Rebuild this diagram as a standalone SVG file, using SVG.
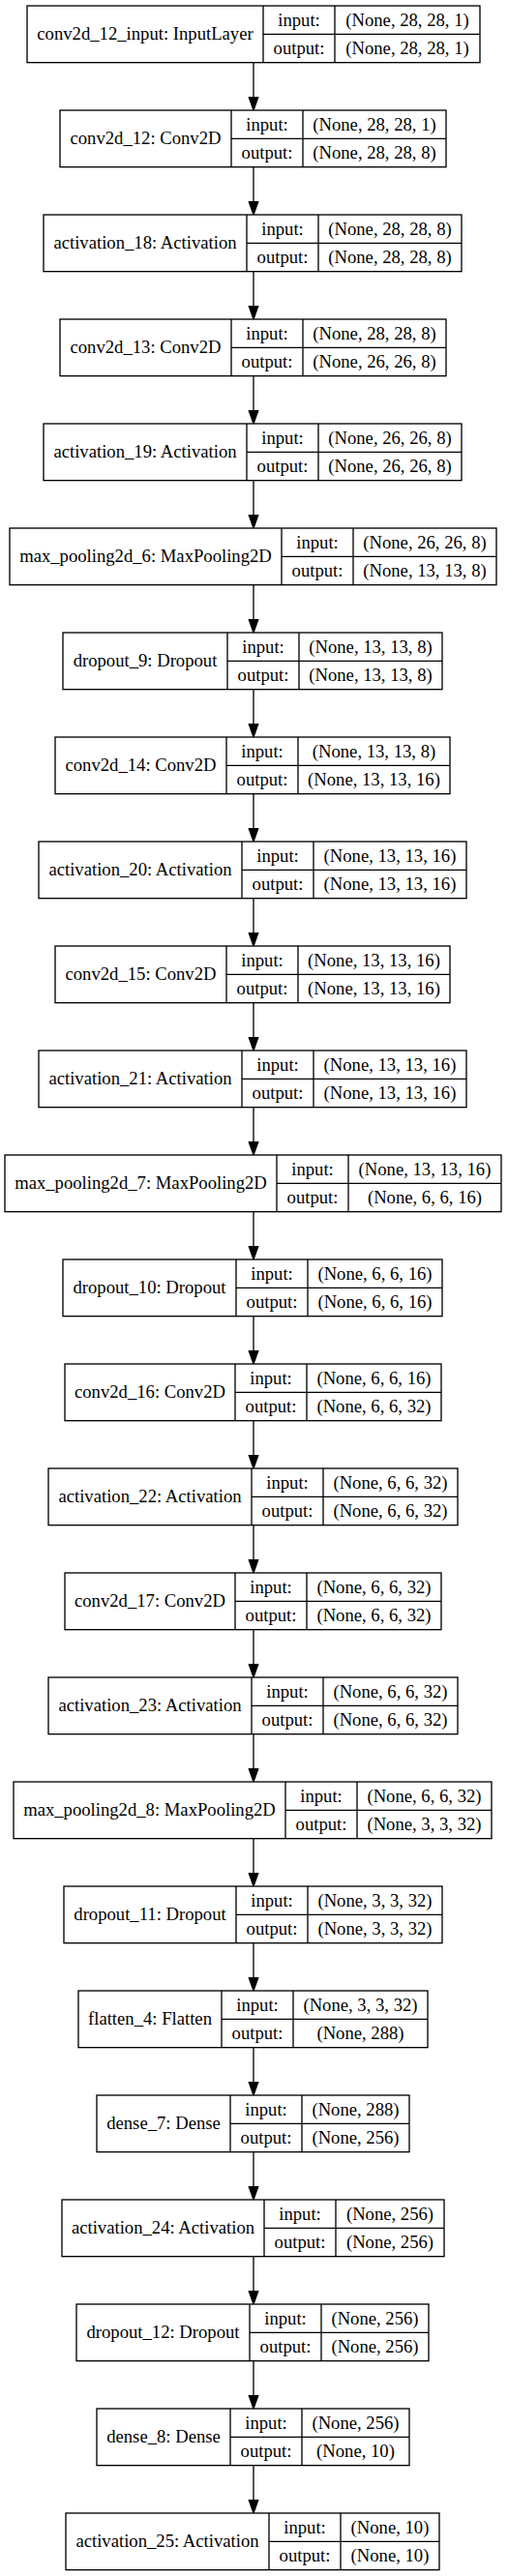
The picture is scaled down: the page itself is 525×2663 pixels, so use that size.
<svg xmlns="http://www.w3.org/2000/svg" width="525" height="2663" viewBox="0 0 525 2663">
<defs>
<style>
.bg{fill:#ffffff}
.n rect{fill:#ffffff;stroke:#000000;stroke-width:1.33}
.n line{stroke:#000000;stroke-width:1.33}
.n text{font-family:"Liberation Serif","Times New Roman",serif;font-size:18.67px;text-anchor:middle;fill:#000000}
.e line{stroke:#000000;stroke-width:1.33}
</style>
<marker id="ah" markerUnits="userSpaceOnUse" markerWidth="14" markerHeight="10" viewBox="0 0 14 10" refX="0" refY="5" orient="auto" overflow="visible">
<path d="M0,0.33 L13.33,5 L0,9.67 z" fill="#000000" stroke="#000000" stroke-width="1.33"/>
</marker>
</defs>
<rect class="bg" x="0" y="0" width="525" height="2663"/>
<g id="connectors" class="e">
<line x1="262" y1="64.67" x2="262" y2="100.67" marker-end="url(#ah)"/>
<line x1="262" y1="172.67" x2="262" y2="208.67" marker-end="url(#ah)"/>
<line x1="262" y1="280.67" x2="262" y2="316.67" marker-end="url(#ah)"/>
<line x1="262" y1="388.67" x2="262" y2="424.67" marker-end="url(#ah)"/>
<line x1="262" y1="496.67" x2="262" y2="532.67" marker-end="url(#ah)"/>
<line x1="262" y1="604.67" x2="262" y2="640.67" marker-end="url(#ah)"/>
<line x1="262" y1="712.67" x2="262" y2="748.67" marker-end="url(#ah)"/>
<line x1="262" y1="820.67" x2="262" y2="856.67" marker-end="url(#ah)"/>
<line x1="262" y1="928.67" x2="262" y2="964.67" marker-end="url(#ah)"/>
<line x1="262" y1="1036.67" x2="262" y2="1072.67" marker-end="url(#ah)"/>
<line x1="262" y1="1144.67" x2="262" y2="1180.67" marker-end="url(#ah)"/>
<line x1="262" y1="1252.67" x2="262" y2="1288.67" marker-end="url(#ah)"/>
<line x1="262" y1="1360.67" x2="262" y2="1396.67" marker-end="url(#ah)"/>
<line x1="262" y1="1468.67" x2="262" y2="1504.67" marker-end="url(#ah)"/>
<line x1="262" y1="1576.67" x2="262" y2="1612.67" marker-end="url(#ah)"/>
<line x1="262" y1="1684.67" x2="262" y2="1720.67" marker-end="url(#ah)"/>
<line x1="262" y1="1792.67" x2="262" y2="1828.67" marker-end="url(#ah)"/>
<line x1="262" y1="1900.67" x2="262" y2="1936.67" marker-end="url(#ah)"/>
<line x1="262" y1="2008.67" x2="262" y2="2044.67" marker-end="url(#ah)"/>
<line x1="262" y1="2116.67" x2="262" y2="2152.67" marker-end="url(#ah)"/>
<line x1="262" y1="2224.67" x2="262" y2="2260.67" marker-end="url(#ah)"/>
<line x1="262" y1="2332.67" x2="262" y2="2368.67" marker-end="url(#ah)"/>
<line x1="262" y1="2440.67" x2="262" y2="2476.67" marker-end="url(#ah)"/>
<line x1="262" y1="2548.67" x2="262" y2="2584.67" marker-end="url(#ah)"/>
</g>
<g id="conv2d_12_input" class="n" transform="translate(0,6)">
<rect x="28" y="0" width="468" height="58.67"/><line x1="272" y1="0" x2="272" y2="58.67"/><line x1="346" y1="0" x2="346" y2="58.67"/><line x1="272" y1="29.33" x2="496" y2="29.33"/>
<text x="150" y="35.3">conv2d_12_input: InputLayer</text><text x="309" y="20.7">input:</text><text x="309" y="50">output:</text><text x="421" y="20.7">(None, 28, 28, 1)</text><text x="421" y="50">(None, 28, 28, 1)</text>
</g>
<g id="conv2d_12" class="n" transform="translate(0,114)">
<rect x="62" y="0" width="399" height="58.67"/><line x1="239" y1="0" x2="239" y2="58.67"/><line x1="313" y1="0" x2="313" y2="58.67"/><line x1="239" y1="29.33" x2="461" y2="29.33"/>
<text x="150.5" y="35.3">conv2d_12: Conv2D</text><text x="276" y="20.7">input:</text><text x="276" y="50">output:</text><text x="387" y="20.7">(None, 28, 28, 1)</text><text x="387" y="50">(None, 28, 28, 8)</text>
</g>
<g id="activation_18" class="n" transform="translate(0,222)">
<rect x="45" y="0" width="432" height="58.67"/><line x1="255" y1="0" x2="255" y2="58.67"/><line x1="329" y1="0" x2="329" y2="58.67"/><line x1="255" y1="29.33" x2="477" y2="29.33"/>
<text x="150" y="35.3">activation_18: Activation</text><text x="292" y="20.7">input:</text><text x="292" y="50">output:</text><text x="403" y="20.7">(None, 28, 28, 8)</text><text x="403" y="50">(None, 28, 28, 8)</text>
</g>
<g id="conv2d_13" class="n" transform="translate(0,330)">
<rect x="62" y="0" width="399" height="58.67"/><line x1="239" y1="0" x2="239" y2="58.67"/><line x1="313" y1="0" x2="313" y2="58.67"/><line x1="239" y1="29.33" x2="461" y2="29.33"/>
<text x="150.5" y="35.3">conv2d_13: Conv2D</text><text x="276" y="20.7">input:</text><text x="276" y="50">output:</text><text x="387" y="20.7">(None, 28, 28, 8)</text><text x="387" y="50">(None, 26, 26, 8)</text>
</g>
<g id="activation_19" class="n" transform="translate(0,438)">
<rect x="45" y="0" width="432" height="58.67"/><line x1="255" y1="0" x2="255" y2="58.67"/><line x1="329" y1="0" x2="329" y2="58.67"/><line x1="255" y1="29.33" x2="477" y2="29.33"/>
<text x="150" y="35.3">activation_19: Activation</text><text x="292" y="20.7">input:</text><text x="292" y="50">output:</text><text x="403" y="20.7">(None, 26, 26, 8)</text><text x="403" y="50">(None, 26, 26, 8)</text>
</g>
<g id="max_pooling2d_6" class="n" transform="translate(0,546)">
<rect x="10" y="0" width="503" height="58.67"/><line x1="291" y1="0" x2="291" y2="58.67"/><line x1="365" y1="0" x2="365" y2="58.67"/><line x1="291" y1="29.33" x2="513" y2="29.33"/>
<text x="150.5" y="35.3">max_pooling2d_6: MaxPooling2D</text><text x="328" y="20.7">input:</text><text x="328" y="50">output:</text><text x="439" y="20.7">(None, 26, 26, 8)</text><text x="439" y="50">(None, 13, 13, 8)</text>
</g>
<g id="dropout_9" class="n" transform="translate(0,654)">
<rect x="65" y="0" width="392" height="58.67"/><line x1="235" y1="0" x2="235" y2="58.67"/><line x1="309" y1="0" x2="309" y2="58.67"/><line x1="235" y1="29.33" x2="457" y2="29.33"/>
<text x="150" y="35.3">dropout_9: Dropout</text><text x="272" y="20.7">input:</text><text x="272" y="50">output:</text><text x="383" y="20.7">(None, 13, 13, 8)</text><text x="383" y="50">(None, 13, 13, 8)</text>
</g>
<g id="conv2d_14" class="n" transform="translate(0,762)">
<rect x="57" y="0" width="408" height="58.67"/><line x1="234" y1="0" x2="234" y2="58.67"/><line x1="308" y1="0" x2="308" y2="58.67"/><line x1="234" y1="29.33" x2="465" y2="29.33"/>
<text x="145.5" y="35.3">conv2d_14: Conv2D</text><text x="271" y="20.7">input:</text><text x="271" y="50">output:</text><text x="386.5" y="20.7">(None, 13, 13, 8)</text><text x="386.5" y="50">(None, 13, 13, 16)</text>
</g>
<g id="activation_20" class="n" transform="translate(0,870)">
<rect x="40" y="0" width="442" height="58.67"/><line x1="250" y1="0" x2="250" y2="58.67"/><line x1="324" y1="0" x2="324" y2="58.67"/><line x1="250" y1="29.33" x2="482" y2="29.33"/>
<text x="145" y="35.3">activation_20: Activation</text><text x="287" y="20.7">input:</text><text x="287" y="50">output:</text><text x="403" y="20.7">(None, 13, 13, 16)</text><text x="403" y="50">(None, 13, 13, 16)</text>
</g>
<g id="conv2d_15" class="n" transform="translate(0,978)">
<rect x="57" y="0" width="408" height="58.67"/><line x1="234" y1="0" x2="234" y2="58.67"/><line x1="308" y1="0" x2="308" y2="58.67"/><line x1="234" y1="29.33" x2="465" y2="29.33"/>
<text x="145.5" y="35.3">conv2d_15: Conv2D</text><text x="271" y="20.7">input:</text><text x="271" y="50">output:</text><text x="386.5" y="20.7">(None, 13, 13, 16)</text><text x="386.5" y="50">(None, 13, 13, 16)</text>
</g>
<g id="activation_21" class="n" transform="translate(0,1086)">
<rect x="40" y="0" width="442" height="58.67"/><line x1="250" y1="0" x2="250" y2="58.67"/><line x1="324" y1="0" x2="324" y2="58.67"/><line x1="250" y1="29.33" x2="482" y2="29.33"/>
<text x="145" y="35.3">activation_21: Activation</text><text x="287" y="20.7">input:</text><text x="287" y="50">output:</text><text x="403" y="20.7">(None, 13, 13, 16)</text><text x="403" y="50">(None, 13, 13, 16)</text>
</g>
<g id="max_pooling2d_7" class="n" transform="translate(0,1194)">
<rect x="5" y="0" width="513" height="58.67"/><line x1="286" y1="0" x2="286" y2="58.67"/><line x1="360" y1="0" x2="360" y2="58.67"/><line x1="286" y1="29.33" x2="518" y2="29.33"/>
<text x="145.5" y="35.3">max_pooling2d_7: MaxPooling2D</text><text x="323" y="20.7">input:</text><text x="323" y="50">output:</text><text x="439" y="20.7">(None, 13, 13, 16)</text><text x="439" y="50">(None, 6, 6, 16)</text>
</g>
<g id="dropout_10" class="n" transform="translate(0,1302)">
<rect x="65" y="0" width="392" height="58.67"/><line x1="244" y1="0" x2="244" y2="58.67"/><line x1="318" y1="0" x2="318" y2="58.67"/><line x1="244" y1="29.33" x2="457" y2="29.33"/>
<text x="154.5" y="35.3">dropout_10: Dropout</text><text x="281" y="20.7">input:</text><text x="281" y="50">output:</text><text x="387.5" y="20.7">(None, 6, 6, 16)</text><text x="387.5" y="50">(None, 6, 6, 16)</text>
</g>
<g id="conv2d_16" class="n" transform="translate(0,1410)">
<rect x="67" y="0" width="389" height="58.67"/><line x1="243" y1="0" x2="243" y2="58.67"/><line x1="317" y1="0" x2="317" y2="58.67"/><line x1="243" y1="29.33" x2="456" y2="29.33"/>
<text x="155" y="35.3">conv2d_16: Conv2D</text><text x="280" y="20.7">input:</text><text x="280" y="50">output:</text><text x="386.5" y="20.7">(None, 6, 6, 16)</text><text x="386.5" y="50">(None, 6, 6, 32)</text>
</g>
<g id="activation_22" class="n" transform="translate(0,1518)">
<rect x="50" y="0" width="423" height="58.67"/><line x1="260" y1="0" x2="260" y2="58.67"/><line x1="334" y1="0" x2="334" y2="58.67"/><line x1="260" y1="29.33" x2="473" y2="29.33"/>
<text x="155" y="35.3">activation_22: Activation</text><text x="297" y="20.7">input:</text><text x="297" y="50">output:</text><text x="403.5" y="20.7">(None, 6, 6, 32)</text><text x="403.5" y="50">(None, 6, 6, 32)</text>
</g>
<g id="conv2d_17" class="n" transform="translate(0,1626)">
<rect x="67" y="0" width="389" height="58.67"/><line x1="243" y1="0" x2="243" y2="58.67"/><line x1="317" y1="0" x2="317" y2="58.67"/><line x1="243" y1="29.33" x2="456" y2="29.33"/>
<text x="155" y="35.3">conv2d_17: Conv2D</text><text x="280" y="20.7">input:</text><text x="280" y="50">output:</text><text x="386.5" y="20.7">(None, 6, 6, 32)</text><text x="386.5" y="50">(None, 6, 6, 32)</text>
</g>
<g id="activation_23" class="n" transform="translate(0,1734)">
<rect x="50" y="0" width="423" height="58.67"/><line x1="260" y1="0" x2="260" y2="58.67"/><line x1="334" y1="0" x2="334" y2="58.67"/><line x1="260" y1="29.33" x2="473" y2="29.33"/>
<text x="155" y="35.3">activation_23: Activation</text><text x="297" y="20.7">input:</text><text x="297" y="50">output:</text><text x="403.5" y="20.7">(None, 6, 6, 32)</text><text x="403.5" y="50">(None, 6, 6, 32)</text>
</g>
<g id="max_pooling2d_8" class="n" transform="translate(0,1842)">
<rect x="14" y="0" width="494" height="58.67"/><line x1="295" y1="0" x2="295" y2="58.67"/><line x1="369" y1="0" x2="369" y2="58.67"/><line x1="295" y1="29.33" x2="508" y2="29.33"/>
<text x="154.5" y="35.3">max_pooling2d_8: MaxPooling2D</text><text x="332" y="20.7">input:</text><text x="332" y="50">output:</text><text x="438.5" y="20.7">(None, 6, 6, 32)</text><text x="438.5" y="50">(None, 3, 3, 32)</text>
</g>
<g id="dropout_11" class="n" transform="translate(0,1950)">
<rect x="66" y="0" width="391" height="58.67"/><line x1="244" y1="0" x2="244" y2="58.67"/><line x1="318" y1="0" x2="318" y2="58.67"/><line x1="244" y1="29.33" x2="457" y2="29.33"/>
<text x="155" y="35.3">dropout_11: Dropout</text><text x="281" y="20.7">input:</text><text x="281" y="50">output:</text><text x="387.5" y="20.7">(None, 3, 3, 32)</text><text x="387.5" y="50">(None, 3, 3, 32)</text>
</g>
<g id="flatten_4" class="n" transform="translate(0,2058)">
<rect x="81" y="0" width="361" height="58.67"/><line x1="229" y1="0" x2="229" y2="58.67"/><line x1="303" y1="0" x2="303" y2="58.67"/><line x1="229" y1="29.33" x2="442" y2="29.33"/>
<text x="155" y="35.3">flatten_4: Flatten</text><text x="266" y="20.7">input:</text><text x="266" y="50">output:</text><text x="372.5" y="20.7">(None, 3, 3, 32)</text><text x="372.5" y="50">(None, 288)</text>
</g>
<g id="dense_7" class="n" transform="translate(0,2166)">
<rect x="100" y="0" width="323" height="58.67"/><line x1="238" y1="0" x2="238" y2="58.67"/><line x1="312" y1="0" x2="312" y2="58.67"/><line x1="238" y1="29.33" x2="423" y2="29.33"/>
<text x="169" y="35.3">dense_7: Dense</text><text x="275" y="20.7">input:</text><text x="275" y="50">output:</text><text x="367.5" y="20.7">(None, 288)</text><text x="367.5" y="50">(None, 256)</text>
</g>
<g id="activation_24" class="n" transform="translate(0,2274)">
<rect x="64" y="0" width="395" height="58.67"/><line x1="273" y1="0" x2="273" y2="58.67"/><line x1="347" y1="0" x2="347" y2="58.67"/><line x1="273" y1="29.33" x2="459" y2="29.33"/>
<text x="168.5" y="35.3">activation_24: Activation</text><text x="310" y="20.7">input:</text><text x="310" y="50">output:</text><text x="403" y="20.7">(None, 256)</text><text x="403" y="50">(None, 256)</text>
</g>
<g id="dropout_12" class="n" transform="translate(0,2382)">
<rect x="79" y="0" width="364" height="58.67"/><line x1="258" y1="0" x2="258" y2="58.67"/><line x1="332" y1="0" x2="332" y2="58.67"/><line x1="258" y1="29.33" x2="443" y2="29.33"/>
<text x="168.5" y="35.3">dropout_12: Dropout</text><text x="295" y="20.7">input:</text><text x="295" y="50">output:</text><text x="387.5" y="20.7">(None, 256)</text><text x="387.5" y="50">(None, 256)</text>
</g>
<g id="dense_8" class="n" transform="translate(0,2490)">
<rect x="100" y="0" width="323" height="58.67"/><line x1="238" y1="0" x2="238" y2="58.67"/><line x1="312" y1="0" x2="312" y2="58.67"/><line x1="238" y1="29.33" x2="423" y2="29.33"/>
<text x="169" y="35.3">dense_8: Dense</text><text x="275" y="20.7">input:</text><text x="275" y="50">output:</text><text x="367.5" y="20.7">(None, 256)</text><text x="367.5" y="50">(None, 10)</text>
</g>
<g id="activation_25" class="n" transform="translate(0,2598)">
<rect x="68" y="0" width="386" height="58.67"/><line x1="278" y1="0" x2="278" y2="58.67"/><line x1="352" y1="0" x2="352" y2="58.67"/><line x1="278" y1="29.33" x2="454" y2="29.33"/>
<text x="173" y="35.3">activation_25: Activation</text><text x="315" y="20.7">input:</text><text x="315" y="50">output:</text><text x="403" y="20.7">(None, 10)</text><text x="403" y="50">(None, 10)</text>
</g>
</svg>
